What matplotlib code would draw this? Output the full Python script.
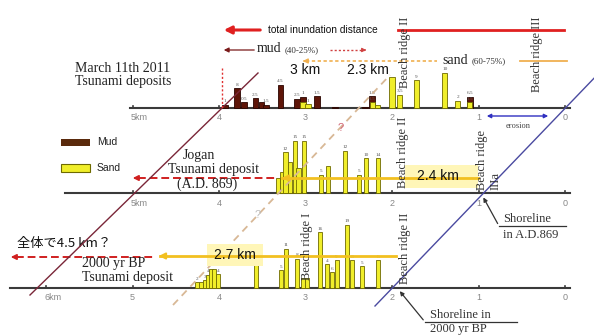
import matplotlib
matplotlib.use("Agg")
import matplotlib.pyplot as plt
from matplotlib.patches import Rectangle

# ---------------- data ----------------
km_ticks_top = [5, 4, 3, 2, 1, 0]
km_ticks_mid = [5, 4, 3, 2, 1, 0]
km_ticks_bot = [6, 5, 4, 3, 2, 1, 0]

# 2011 deposits (distance km, thickness cm)
mud2011_x = [3.93, 3.79, 3.71, 3.58, 3.51, 3.46, 3.29, 3.10, 3.03, 2.87, 2.66, 2.31, 2.23, 1.10]
mud2011_h = [1.2, 8.0, 2.4, 4.0, 2.4, 1.2, 9.2, 3.6, 4.4, 4.8, 0.6, 0.6, 4.8, 4.4]
mud2011_lab = ["1", "8", "0.5", "2.5", "", "1.5", "4.5", "2.5", "1", "1.5", "", "", "1.8", "6.5"]
sand2011_x = [3.03, 2.97, 2.23, 2.17, 2.00, 1.91, 1.72, 1.39, 1.24, 1.10]
sand2011_h = [2.4, 1.6, 2.4, 1.2, 12.4, 5.2, 11.2, 14.0, 2.8, 2.4]
sand2011_lab = ["", "1", "1.5", "", "", "3.5", "9", "10", "2", "1.5"]

# Jogan (AD 869)
sand869_x = [3.32, 3.27, 3.23, 3.18, 3.12, 3.08, 3.02, 2.82, 2.74, 2.54, 2.38, 2.30, 2.16]
sand869_h = [6.0, 8.4, 16.4, 12.4, 20.8, 10.0, 20.8, 7.2, 10.8, 16.8, 7.2, 14.0, 14.0]
sand869_lab = ["", "", "12", "", "15", "", "15", "5", "", "12", "5", "10", "14"]

# 2000 yr BP
sandBP_x = [4.25, 4.21, 4.16, 4.13, 4.09, 4.06, 4.01, 3.57, 3.28, 3.23, 3.10, 3.03, 2.98,
            2.83, 2.75, 2.69, 2.64, 2.52, 2.46, 2.35, 2.16]
sandBP_h = [2.4, 2.4, 3.2, 5.2, 7.6, 7.6, 5.6, 11.2, 7.2, 15.6, 11.6, 4.0, 4.0,
            22.4, 9.6, 6.4, 11.2, 25.2, 11.2, 8.8, 11.2]
sandBP_lab = ["2", "", "3", "4", "6.5", "", "4", "4", "5", "11", "8", "", "",
              "16", "4", "6", "9", "19", "8", "5", "6"]

# ---------------- style ----------------
W, H = 594, 336
PX_PER_KM = 86.5
ZERO_PX = 565
PX_PER_CM = 2.5
BASE = {"top": 108, "mid": 193, "bot": 288}
MUD = "#5e1508"
SAND = "#f0ee2a"
SAND_EDGE = "#6e6a00"
SERIF = "Liberation Serif"
SANS = "Liberation Sans"

fig = plt.figure(figsize=(W / 100, H / 100), dpi=100)
fig.patch.set_facecolor("white")
ax = fig.add_axes([0, 0, 1, 1])          # data axis: km
ax.set_xlim((ZERO_PX - 0) / PX_PER_KM, (ZERO_PX - W) / PX_PER_KM)
ax.set_ylim(H, 0)
ax.axis("off")
ov = fig.add_axes([0, 0, 1, 1])          # overlay: pixel layout
ov.set_xlim(0, W)
ov.set_ylim(H, 0)
ov.axis("off")
ov.patch.set_alpha(0)


def bars(xs, hs, labs, base, color, edge, width, lab_color="#555", z=3):
    hh = [h * PX_PER_CM for h in hs]
    ax.bar(xs, [-h for h in hh], bottom=base, width=width, color=color,
           edgecolor=edge, linewidth=0.6, zorder=z, align="center")
    for x, h, t in zip(xs, hh, labs):
        if t:
            ax.text(x, base - h - 1.5, t, fontsize=3.8, color=lab_color,
                    ha="center", va="bottom", family=SERIF, zorder=z + 1)


# baselines and ticks
for key, ticks, left, unit_tick in [("top", km_ticks_top, 5.03, 5),
                                    ("mid", km_ticks_mid, 5.78, 5),
                                    ("bot", km_ticks_bot, 6.42, 6)]:
    b = BASE[key]
    ax.plot([left, -0.06], [b, b], color="#3a3a3a", lw=1.5, zorder=2)
    for t in ticks:
        ax.plot([t, t], [b, b - 2], color="#3a3a3a", lw=1.2, zorder=2)
        lab = f"{t}km" if t == unit_tick else f"{t}"
        ax.text(t + (0.02 if t == unit_tick else 0), b + 10, lab, fontsize=6.5,
                color="#888888", ha="left" if t == unit_tick else "center",
                va="center", family=SANS, zorder=2)

# bars
bars(mud2011_x, mud2011_h, mud2011_lab, BASE["top"], MUD, "#2a0500", 0.065)
bars(sand2011_x, sand2011_h, sand2011_lab, BASE["top"], SAND, SAND_EDGE, 0.06, z=4)
bars(sand869_x, sand869_h, sand869_lab, BASE["mid"], SAND, SAND_EDGE, 0.05)
bars(sandBP_x, sandBP_h, sandBP_lab, BASE["bot"], SAND, SAND_EDGE, 0.045)

# ---------------- diagonal lines ----------------
ov.plot([258, 30], [73, 295], color="#7a2638", lw=1.0, zorder=5)
ov.plot([600, 375], [72, 306], color="#4a4aa0", lw=1.0, zorder=5)
ov.plot([173, 390], [305, 75], color="#d8b896", lw=1.3, ls=(0, (4, 3)), zorder=1)
ov.text(341, 128, "?", color="#d06070", fontsize=8, ha="center", va="center", family=SANS)
ov.text(258, 215, "?", color="#bbbbbb", fontsize=8, ha="center", va="center", family=SANS)
ov.plot([222, 222], [68, 108], color="#e03030", lw=1.0, ls=(0, (1.5, 1.5)), zorder=5)

# ---------------- top annotations ----------------
ov.annotate("", xy=(221, 30), xytext=(263, 30),
            arrowprops=dict(arrowstyle="-|>", color="#e02020", lw=2.2, mutation_scale=11))
ov.text(268, 30, "total inundation distance", fontsize=7.3, family=SANS,
        va="center", ha="left", color="#111")
ov.plot([398, 564], [30, 30], color="#e02020", lw=2.0)

ov.annotate("", xy=(221, 50), xytext=(257, 50),
            arrowprops=dict(arrowstyle="-|>", color="#7a1a1a", lw=0.9, mutation_scale=7))
ov.text(257, 49, "mud", fontsize=10, family=SERIF, va="center", ha="left", color="#222")
ov.text(285, 50, "(40-25%)", fontsize=6.5, family=SERIF, va="center", ha="left", color="#333")
ov.plot([330, 364], [50, 50], color="#d04040", lw=1.0, ls=(0, (1.5, 1.5)))
ov.annotate("", xy=(369, 50), xytext=(362, 50),
            arrowprops=dict(arrowstyle="-|>", color="#d04040", lw=0.8, mutation_scale=6))

ov.plot([306, 437], [61, 61], color="#f0b050", lw=1.2, ls=(0, (2, 1.5)))
ov.annotate("", xy=(300, 61), xytext=(308, 61),
            arrowprops=dict(arrowstyle="-|>", color="#f0b050", lw=1.0, mutation_scale=7))
ov.text(442, 60, "sand", fontsize=10, family=SERIF, va="center", ha="left", color="#222")
ov.text(472, 61, "(60-75%)", fontsize=6.5, family=SERIF, va="center", ha="left", color="#333")
ov.plot([520, 567], [61, 61], color="#f0b050", lw=1.3)

ov.text(305, 70, "3 km", fontsize=10, family=SANS, ha="center", va="center", color="#111")
ov.text(368, 70, "2.3 km", fontsize=10, family=SANS, ha="center", va="center", color="#111")

ov.text(75, 68, "March 11th 2011", fontsize=10, family=SERIF, ha="left", va="center", color="#222")
ov.text(75, 82, "Tsunami deposits", fontsize=10, family=SERIF, ha="left", va="center", color="#222")

# beach ridge labels
def ridge(x, y, s, ma="center"):
    ov.text(x, y, s, rotation=90, fontsize=9, family=SERIF, ha="center",
            va="bottom", color="#333", multialignment=ma, zorder=6)

ridge(405, 88, "Beach ridge II")
ridge(537, 92, "Beach ridge III")
ridge(403, 188, "Beach ridge II")
ridge(489, 190, "Beach ridge\nIIIa", ma="left")
ridge(307, 280, "Beach ridge I")
ridge(405, 284, "Beach ridge II")

# erosion arrow
ov.annotate("", xy=(484, 116), xytext=(551, 116),
            arrowprops=dict(arrowstyle="<|-|>", color="#3030c0", lw=1.0, mutation_scale=6))
ov.text(518, 126, "erosion", fontsize=6, family=SERIF, ha="center", va="center", color="#444")

# ---------------- legend ----------------
ov.add_patch(Rectangle((61, 139), 29, 7, facecolor="#5a2a0c", edgecolor="none"))
ov.text(97, 142, "Mud", fontsize=7.5, family=SANS, va="center", ha="left", color="#222")
ov.add_patch(Rectangle((61, 164), 29, 8, facecolor=SAND, edgecolor=SAND_EDGE, lw=0.8))
ov.text(97, 168, "Sand", fontsize=7.5, family=SANS, va="center", ha="left", color="#222")

# ---------------- middle annotations ----------------
ov.text(199, 155, "Jogan", fontsize=10, family=SERIF, ha="center", va="center", color="#222")
ov.text(214, 170, "Tsunami deposit", fontsize=10, family=SERIF, ha="center", va="center", color="#222")
ov.text(207, 184, "(A.D. 869)", fontsize=10, family=SERIF, ha="center", va="center", color="#222")
ov.add_patch(Rectangle((405, 165), 73, 23, facecolor="#fff6b8", edgecolor="none", zorder=1))
ov.plot([282, 478], [178, 178], color="#f2c020", lw=2.0, zorder=2)
ov.annotate("", xy=(279, 178), xytext=(292, 178),
            arrowprops=dict(arrowstyle="-|>", color="#f2c020", lw=1.5, mutation_scale=9), zorder=2)
ov.text(438, 176, "2.4 km", fontsize=10, family=SANS, ha="center", va="center", color="#111", zorder=3)
ov.plot([138, 276], [178, 178], color="#d02020", lw=1.4, ls=(0, (4, 2)), zorder=2)
ov.annotate("", xy=(130, 178), xytext=(142, 178),
            arrowprops=dict(arrowstyle="-|>", color="#d02020", lw=1.2, mutation_scale=8))

# shoreline AD869
ov.annotate("", xy=(482, 195), xytext=(499, 226),
            arrowprops=dict(arrowstyle="-|>", color="#333", lw=0.9, mutation_scale=6))
ov.plot([499, 566], [226, 226], color="#333", lw=0.9)
ov.text(503, 219, "Shoreline", fontsize=9, family=SERIF, ha="left", va="center", color="#333")
ov.text(503, 235, "in A.D.869", fontsize=9, family=SERIF, ha="left", va="center", color="#333")

# ---------------- bottom annotations ----------------
ov.text(17, 243, "全体で4.5 km？", fontsize=9.5, family=["Noto Sans CJK JP", "DejaVu Sans"],
        ha="left", va="center", color="#111")
ov.add_patch(Rectangle((207, 244), 56, 22, facecolor="#fff6b8", edgecolor="none", zorder=1))
ov.plot([160, 396], [256, 256], color="#f2c020", lw=2.0, zorder=2)
ov.annotate("", xy=(156, 256), xytext=(168, 256),
            arrowprops=dict(arrowstyle="-|>", color="#f2c020", lw=1.5, mutation_scale=9), zorder=2)
ov.text(235, 255, "2.7 km", fontsize=10, family=SANS, ha="center", va="center", color="#111", zorder=3)
ov.plot([16, 154], [257, 257], color="#d02020", lw=1.4, ls=(0, (4, 2)), zorder=2)
ov.annotate("", xy=(8, 257), xytext=(20, 257),
            arrowprops=dict(arrowstyle="-|>", color="#d02020", lw=1.2, mutation_scale=8))
ov.text(82, 264, "2000 yr BP", fontsize=10, family=SERIF, ha="left", va="center", color="#222")
ov.text(82, 278, "Tsunami deposit", fontsize=10, family=SERIF, ha="left", va="center", color="#222")

# shoreline 2000 BP
ov.annotate("", xy=(398, 289), xytext=(425, 322),
            arrowprops=dict(arrowstyle="-|>", color="#333", lw=0.9, mutation_scale=6))
ov.plot([425, 517], [322, 322], color="#333", lw=0.9)
ov.text(430, 315, "Shoreline in", fontsize=9, family=SERIF, ha="left", va="center", color="#333")
ov.text(430, 329, "2000 yr BP", fontsize=9, family=SERIF, ha="left", va="center", color="#333")

fig.savefig("out.png", dpi=100, facecolor="white")
